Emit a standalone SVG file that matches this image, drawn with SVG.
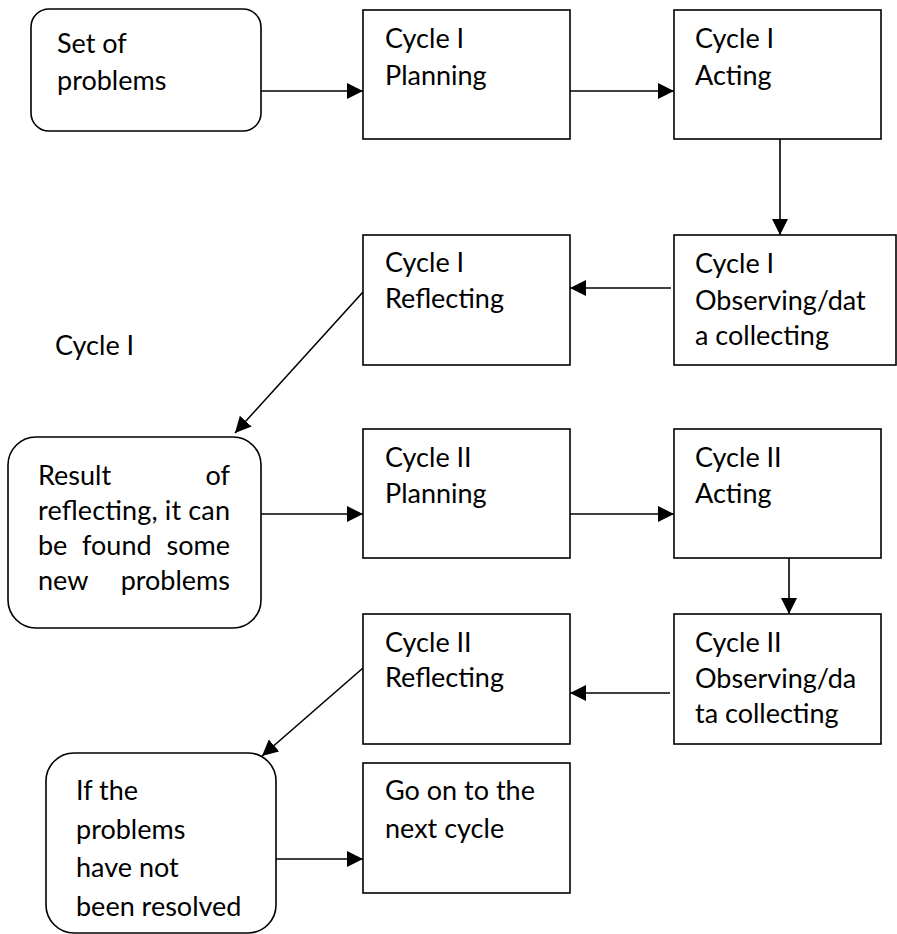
<svg xmlns="http://www.w3.org/2000/svg" width="897" height="934" viewBox="0 0 897 934">
<style>
.box{fill:#fff;stroke:#000;stroke-width:1.6}
.t{font-family:Lato,"Liberation Sans",sans-serif;font-size:27px;fill:#000}
.e{text-anchor:end}
.c{fill:none;stroke:#000;stroke-width:1.6}
</style>
<defs>
<marker id="ah" markerUnits="userSpaceOnUse" markerWidth="16" markerHeight="16" refX="16" refY="8" orient="auto" viewBox="0 0 16 16">
<path d="M0,0 L16,8 L0,16 z" fill="#000"/>
</marker>
</defs>
<rect width="897" height="934" fill="#fff"/>
<g id="connectors">
<line class="c" x1="261" y1="91" x2="363" y2="91" marker-end="url(#ah)"/>
<line class="c" x1="570" y1="91" x2="674" y2="91" marker-end="url(#ah)"/>
<line class="c" x1="780" y1="139" x2="780" y2="235" marker-end="url(#ah)"/>
<line class="c" x1="671" y1="288" x2="570" y2="288" marker-end="url(#ah)"/>
<line class="c" x1="363" y1="292" x2="235" y2="433" marker-end="url(#ah)"/>
<line class="c" x1="261" y1="514" x2="363" y2="514" marker-end="url(#ah)"/>
<line class="c" x1="570" y1="514" x2="674" y2="514" marker-end="url(#ah)"/>
<line class="c" x1="789" y1="558" x2="789" y2="614" marker-end="url(#ah)"/>
<line class="c" x1="670" y1="693" x2="570" y2="693" marker-end="url(#ah)"/>
<line class="c" x1="363" y1="668" x2="262" y2="756" marker-end="url(#ah)"/>
<line class="c" x1="272" y1="859" x2="363" y2="859" marker-end="url(#ah)"/>
</g>
<g id="set-of-problems">
<rect class="box" x="31" y="9" width="230" height="122" rx="18"/>
<text class="t" x="57" y="53">Set of</text>
<text class="t" x="57" y="90">problems</text>
</g>
<g id="c1-planning">
<rect class="box" x="363" y="10" width="207" height="129"/>
<text class="t" x="385" y="48">Cycle I</text>
<text class="t" x="385" y="85">Planning</text>
</g>
<g id="c1-acting">
<rect class="box" x="674" y="10" width="207" height="129"/>
<text class="t" x="695" y="48">Cycle I</text>
<text class="t" x="695" y="85">Acting</text>
</g>
<g id="c1-observing">
<rect class="box" x="674" y="235" width="222" height="130"/>
<text class="t" x="695" y="273">Cycle I</text>
<text class="t" x="695" y="310">Observing/dat</text>
<text class="t" x="695" y="345">a collecting</text>
</g>
<g id="c1-reflecting">
<rect class="box" x="363" y="235" width="207" height="130"/>
<text class="t" x="385" y="272">Cycle I</text>
<text class="t" x="385" y="308">Reflecting</text>
</g>
<g id="cycle-label">
<text class="t" x="55" y="355">Cycle I</text>
</g>
<g id="result">
<rect class="box" x="8" y="437" width="253" height="191" rx="28"/>
<text class="t" x="38" y="485">Result</text>
<text class="t e" x="230" y="485">of</text>
<text class="t" x="38" y="520" textLength="192" lengthAdjust="spacing">reflecting, it can</text>
<text class="t" x="38" y="555">be</text>
<text class="t" x="82" y="555">found</text>
<text class="t e" x="230" y="555">some</text>
<text class="t" x="38" y="590">new</text>
<text class="t e" x="230" y="590">problems</text>
</g>
<g id="c2-planning">
<rect class="box" x="363" y="429" width="207" height="129"/>
<text class="t" x="385" y="467">Cycle II</text>
<text class="t" x="385" y="503">Planning</text>
</g>
<g id="c2-acting">
<rect class="box" x="674" y="429" width="207" height="129"/>
<text class="t" x="695" y="467">Cycle II</text>
<text class="t" x="695" y="503">Acting</text>
</g>
<g id="c2-observing">
<rect class="box" x="674" y="614" width="207" height="130"/>
<text class="t" x="695" y="652">Cycle II</text>
<text class="t" x="695" y="688">Observing/da</text>
<text class="t" x="695" y="723">ta collecting</text>
</g>
<g id="c2-reflecting">
<rect class="box" x="363" y="614" width="207" height="130"/>
<text class="t" x="385" y="652">Cycle II</text>
<text class="t" x="385" y="687">Reflecting</text>
</g>
<g id="if-not-resolved">
<rect class="box" x="46" y="753" width="230" height="180" rx="28"/>
<text class="t" x="76" y="800">If the</text>
<text class="t" x="76" y="839">problems</text>
<text class="t" x="76" y="877">have not</text>
<text class="t" x="76" y="916">been resolved</text>
</g>
<g id="go-on">
<rect class="box" x="363" y="763" width="207" height="130"/>
<text class="t" x="385" y="800">Go on to the</text>
<text class="t" x="385" y="838">next cycle</text>
</g>
</svg>
